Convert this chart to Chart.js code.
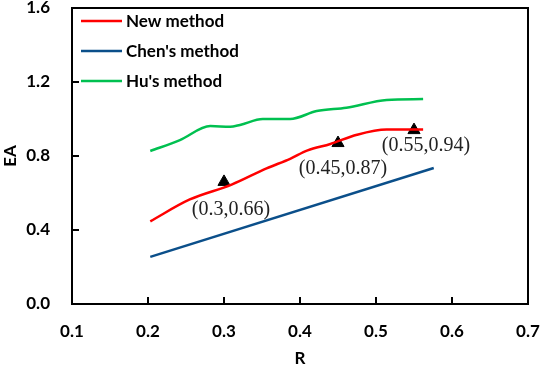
<!DOCTYPE html>
<html>
<head>
<meta charset="utf-8">
<script src="https://cdn.jsdelivr.net/npm/chart.js@4"></script>
<style>
  html, body { margin: 0; padding: 0; background: #fff; }
  #wrap { width: 540px; height: 369px; }
</style>
</head>
<body>
<div id="wrap"><canvas id="eaChart"></canvas></div>
<script>
// values
const newMethod = [[0.203, 0.447], [0.255, 0.565], [0.31, 0.645], [0.356, 0.733], [0.387, 0.785], [0.41, 0.83], [0.44, 0.865], [0.475, 0.915], [0.514, 0.943], [0.562, 0.943]];
const chenMethod = [[0.203, 0.255], [0.576, 0.735]];
const huMethod = [[0.203, 0.827], [0.242, 0.886], [0.282, 0.962], [0.308, 0.958], [0.321, 0.968], [0.351, 1.0], [0.375, 1.0], [0.387, 1.0], [0.422, 1.043], [0.461, 1.061], [0.514, 1.103], [0.562, 1.108]];
const markedPoints = [[0.3, 0.66], [0.45, 0.87], [0.55, 0.94]];
const markedLabels = ['(0.3,0.66)', '(0.45,0.87)', '(0.55,0.94)'];
const xTicks = [0.1, 0.2, 0.3, 0.4, 0.5, 0.6, 0.7];
const yTicks = [0.0, 0.4, 0.8, 1.2, 1.6];

const toXY = arr => arr.map(p => ({ x: p[0], y: p[1] }));
const axisFont = '"Lato", "Liberation Sans", sans-serif';

const ctx = document.getElementById('eaChart').getContext('2d');

// Frame, inside ticks, legend and point labels
const decorPlugin = {
    id: 'decor',
    afterDraw(chart) {
        const c = chart.ctx;
        const a = chart.chartArea;
        const xs = chart.scales.x, ys = chart.scales.y;
        const L = Math.round(a.left), R = Math.round(a.right);
        const T = Math.round(a.top), B = Math.round(a.bottom);
        c.save();
        c.strokeStyle = '#000';
        c.lineWidth = 2;
        c.lineCap = 'square';
        c.beginPath();
        c.moveTo(L, T); c.lineTo(R, T); c.lineTo(R, B); c.lineTo(L, B); c.closePath();
        c.stroke();
        c.beginPath();
        xTicks.forEach(v => {
            const px = Math.round(xs.getPixelForValue(v));
            c.moveTo(px, B); c.lineTo(px, B - 6);
        });
        yTicks.forEach(v => {
            const py = Math.round(ys.getPixelForValue(v));
            c.moveTo(L, py); c.lineTo(L + 6, py);
        });
        c.stroke();

        // legend inside the plot, top left
        const items = chart.data.datasets.slice(0, 3);
        c.font = 'bold 17px ' + axisFont;
        c.textBaseline = 'middle';
        c.textAlign = 'left';
        items.forEach((ds, i) => {
            const y = a.top + 13 + i * 30;
            c.strokeStyle = ds.borderColor;
            c.lineWidth = 2.5;
            c.lineCap = 'butt';
            c.beginPath();
            c.moveTo(a.left + 9, y); c.lineTo(a.left + 50, y);
            c.stroke();
            c.fillStyle = '#000';
            c.fillText(ds.label, a.left + 54, y + 1);
        });

        // point labels
        c.font = '20px "Liberation Serif", "Times New Roman", serif';
        c.fillStyle = '#222';
        c.textAlign = 'center';
        const offs = [[7, 28], [5, 26], [12, 16]];
        markedPoints.forEach((p, i) => {
            const px = xs.getPixelForValue(p[0]) + offs[i][0];
            const py = ys.getPixelForValue(p[1]) + offs[i][1];
            c.fillText(markedLabels[i], px, py);
        });
        c.restore();
    }
};

const eaChart = new Chart(ctx, {
    type: 'scatter',
    data: {
        datasets: [
            {
                label: 'New method',
                data: toXY(newMethod),
                showLine: true,
                borderColor: '#ff0000',
                borderWidth: 2.5,
                pointRadius: 0,
                tension: 0.4,
                cubicInterpolationMode: 'monotone'
            },
            {
                label: "Chen's method",
                data: toXY(chenMethod),
                showLine: true,
                borderColor: '#0b4f8a',
                borderWidth: 2.5,
                pointRadius: 0
            },
            {
                label: "Hu's method",
                data: toXY(huMethod),
                showLine: true,
                borderColor: '#00c050',
                borderWidth: 2.5,
                pointRadius: 0,
                tension: 0.4,
                cubicInterpolationMode: 'monotone'
            },
            {
                label: 'Marked',
                data: toXY(markedPoints),
                showLine: false,
                pointStyle: 'triangle',
                pointRadius: 7,
                backgroundColor: '#000',
                borderColor: '#000',
                borderWidth: 1
            }
        ]
    },
    options: {
        responsive: true,
        maintainAspectRatio: false,
        animation: false,
        layout: { padding: { top: 8, right: 12, left: 0, bottom: 0 } },
        plugins: {
            legend: { display: false },
            tooltip: { enabled: false }
        },
        scales: {
            x: {
                type: 'linear',
                min: 0.1,
                max: 0.7,
                afterBuildTicks: axis => { axis.ticks = xTicks.map(v => ({ value: v })); },
                afterFit: axis => { axis.height = 65; axis.paddingLeft = 0; axis.paddingRight = 0; },
                grid: { display: false, drawTicks: false },
                border: { display: false },
                ticks: {
                    color: '#000',
                    padding: 17,
                    maxRotation: 0,
                    font: { family: axisFont, size: 17, weight: 'bold' },
                    callback: v => v.toFixed(1)
                },
                title: {
                    display: true,
                    text: 'R',
                    color: '#000',
                    padding: { top: 4, bottom: 0 },
                    font: { family: axisFont, size: 17, weight: 'bold' }
                }
            },
            y: {
                type: 'linear',
                min: 0,
                max: 1.6,
                afterBuildTicks: axis => { axis.ticks = yTicks.map(v => ({ value: v })); },
                afterFit: axis => { axis.width = 72; axis.paddingTop = 0; axis.paddingBottom = 0; },
                grid: { display: false, drawTicks: false },
                border: { display: false },
                ticks: {
                    color: '#000',
                    padding: 22,
                    font: { family: axisFont, size: 17, weight: 'bold' },
                    callback: v => v.toFixed(1)
                },
                title: {
                    display: true,
                    text: 'EA',
                    color: '#000',
                    padding: { top: 0, bottom: 0 },
                    font: { family: axisFont, size: 17, weight: 'bold' }
                }
            }
        }
    },
    plugins: [decorPlugin]
});
</script>
</body>
</html>
